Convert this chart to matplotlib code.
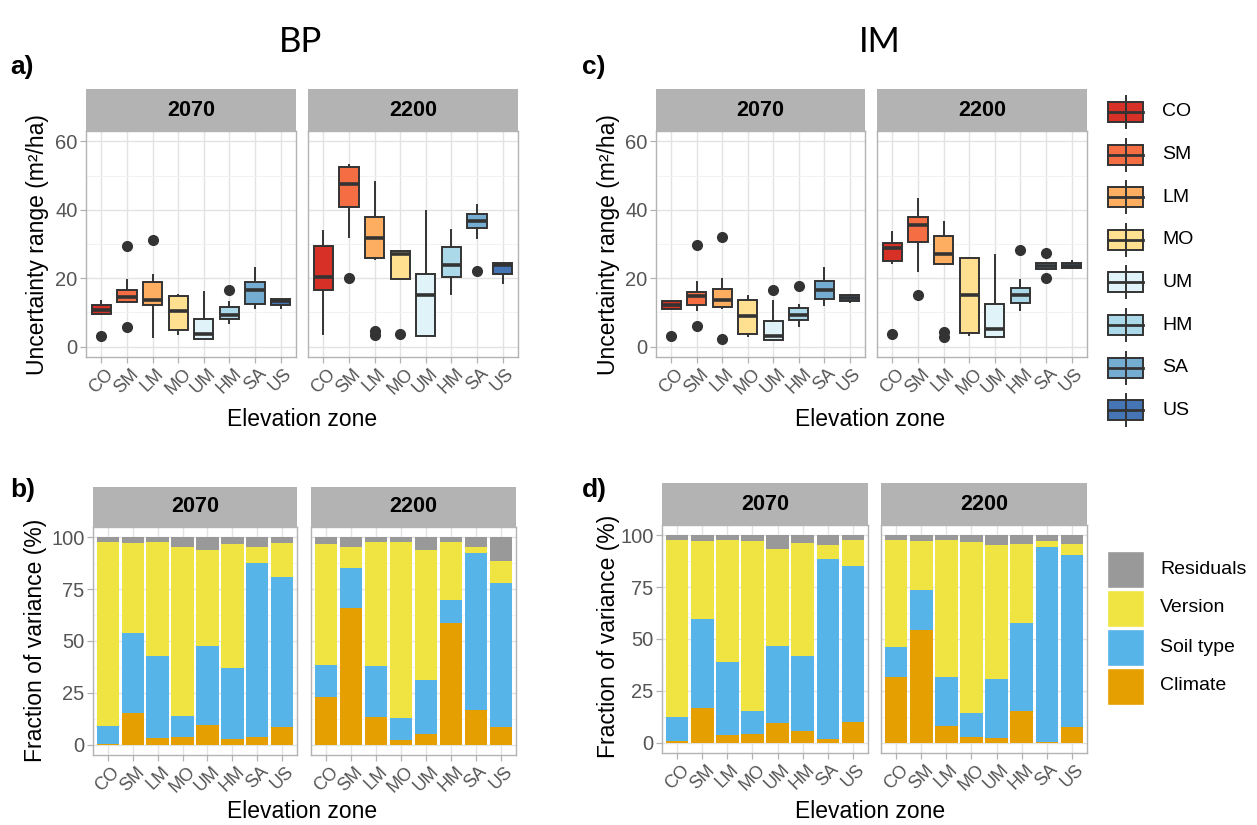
import matplotlib
matplotlib.use("Agg")
import matplotlib.pyplot as plt
from matplotlib.patches import Rectangle
from matplotlib.lines import Line2D
import numpy as np

plt.rcParams['font.family'] = ['Liberation Sans', 'DejaVu Sans']

# ---------------- data ----------------
zones = ['CO', 'SM', 'LM', 'MO', 'UM', 'HM', 'SA', 'US']
periods = ['2070', '2200']
zone_colors = ['#D73027', '#F46D43', '#FDAE61', '#FEE090',
               '#E0F3F8', '#ABD9E9', '#74ADD1', '#4575B4']

# Uncertainty range boxplot statistics (m2/ha)
bp2070_lo  = [9.7, 13.1, 2.7, 3.7, 2.4, 6.8, 11.2, 11.4]
bp2070_q1  = [9.7, 13.1, 12.1, 5.0, 2.4, 8.0, 12.6, 12.3]
bp2070_med = [10.8, 14.5, 13.6, 10.5, 3.7, 9.4, 16.6, 13.3]
bp2070_q3  = [12.1, 16.6, 19.0, 14.7, 8.2, 11.6, 18.8, 14.0]
bp2070_hi  = [13.3, 19.4, 21.0, 15.0, 16.0, 13.1, 23.0, 14.0]
bp2070_out = [[3.1], [29.3, 5.8], [31.3], [], [], [16.6], [], []]

bp2200_lo  = [3.8, 31.9, 25.7, 19.8, 3.2, 15.5, 31.8, 18.6]
bp2200_q1  = [16.6, 40.8, 25.8, 19.8, 3.2, 20.3, 34.8, 21.1]
bp2200_med = [20.5, 47.6, 31.8, 27.1, 15.2, 24.0, 36.8, 24.0]
bp2200_q3  = [29.3, 52.5, 37.9, 27.9, 21.3, 29.2, 38.7, 24.4]
bp2200_hi  = [33.7, 53.0, 48.2, 27.9, 39.5, 34.1, 41.4, 24.4]
bp2200_out = [[], [20.0], [4.7, 3.5], [3.6], [], [], [22.0], []]

im2070_lo  = [11.1, 10.6, 11.3, 3.1, 2.1, 6.0, 12.1, 13.1]
im2070_q1  = [11.1, 12.3, 11.6, 3.7, 2.1, 7.9, 13.9, 13.4]
im2070_med = [12.1, 14.7, 13.6, 8.9, 3.1, 9.4, 16.7, 14.2]
im2070_q3  = [13.4, 16.0, 16.9, 13.7, 7.6, 11.3, 19.1, 15.0]
im2070_hi  = [13.4, 18.9, 19.8, 14.7, 13.3, 12.3, 23.0, 15.0]
im2070_out = [[3.1], [29.6, 6.0], [32.1, 2.3], [], [16.6], [17.6], [], []]

im2200_lo  = [24.4, 22.0, 24.1, 3.4, 2.7, 10.8, 22.7, 23.0]
im2200_q1  = [25.1, 30.7, 24.1, 4.1, 2.9, 12.8, 22.7, 23.0]
im2200_med = [28.7, 35.5, 27.1, 15.0, 5.1, 15.0, 23.7, 23.7]
im2200_q3  = [30.4, 37.8, 32.3, 25.8, 12.4, 17.1, 24.4, 24.4]
im2200_hi  = [33.4, 43.1, 36.5, 25.8, 26.9, 19.6, 24.4, 24.9]
im2200_out = [[3.6], [15.2], [4.2, 2.8], [], [], [28.3], [27.4, 20.0], []]

# Fraction of variance (%)
components = ['Climate', 'Soil type', 'Version', 'Residuals']
comp_colors = ['#E69F00', '#56B4E9', '#F0E442', '#999999']

bp2070_climate = [0.5, 15.2, 3.2, 3.7, 9.6, 2.7, 3.7, 8.5]
bp2070_soil    = [8.6, 38.6, 39.7, 9.9, 37.8, 34.2, 83.8, 72.6]
bp2070_version = [88.8, 43.3, 55.0, 81.9, 46.5, 59.9, 7.7, 16.3]
bp2070_resid   = [2.1, 2.9, 2.1, 4.5, 6.1, 3.2, 4.8, 2.6]

bp2200_climate = [23.0, 65.8, 13.3, 2.1, 5.1, 58.6, 16.5, 8.3]
bp2200_soil    = [15.5, 19.6, 24.7, 10.7, 26.2, 11.2, 76.1, 69.9]
bp2200_version = [58.3, 10.1, 59.9, 84.8, 62.6, 28.1, 2.6, 10.4]
bp2200_resid   = [3.2, 4.5, 2.1, 2.4, 6.1, 2.1, 4.8, 11.4]

im2070_climate = [0.8, 16.5, 3.7, 4.2, 9.6, 5.6, 1.6, 10.1]
im2070_soil    = [11.7, 43.1, 35.1, 11.1, 37.2, 36.4, 87.2, 75.0]
im2070_version = [85.4, 37.5, 59.1, 81.8, 46.8, 54.3, 6.7, 12.5]
im2070_resid   = [2.1, 2.9, 2.1, 2.9, 6.4, 3.7, 4.5, 2.4]

im2200_climate = [31.6, 54.5, 8.0, 2.9, 2.1, 15.3, 0.5, 7.7]
im2200_soil    = [14.4, 19.0, 23.6, 11.5, 28.7, 42.2, 93.7, 82.6]
im2200_version = [51.9, 23.6, 66.0, 82.4, 64.4, 38.3, 3.2, 5.5]
im2200_resid   = [2.1, 2.9, 2.4, 3.2, 4.8, 4.2, 2.6, 4.2]

# ---------------- figure ----------------
W, H = 1257, 825
fig = plt.figure(figsize=(W / 100, H / 100), dpi=100)
fig.patch.set_facecolor('white')

GRID_MAJ = '#E3E3E3'
GRID_MIN = '#F2F2F2'
BORDER = '#B3B3B3'
TICKCOL = '#555555'


def px_axes(x0, y0, x1, y1, **kw):
    return fig.add_axes([x0 / W, 1 - y1 / H, (x1 - x0) / W, (y1 - y0) / H], **kw)


def strip(x0, y0, x1, y1, label):
    ax = px_axes(x0, y0, x1, y1)
    ax.set_facecolor('#B3B3B3')
    ax.set_xticks([]); ax.set_yticks([])
    for s in ax.spines.values():
        s.set_visible(False)
    ax.text(0.5, 0.5, label, transform=ax.transAxes, ha='center', va='center',
            fontsize=15.5, fontweight='bold', color='black')


def style_panel(ax, yticks, yminor, show_y):
    ax.set_xlim(-0.6, len(zones) - 0.4)
    ax.set_xticks(range(len(zones)))
    ax.set_xticklabels(zones, rotation=45, ha='center', va='top',
                       fontsize=13, color=TICKCOL)
    ax.set_yticks(yticks)
    ax.set_yticks(yminor, minor=True)
    if show_y:
        ax.set_yticklabels([str(int(t)) for t in yticks], fontsize=14.5, color=TICKCOL)
    else:
        ax.tick_params(axis='y', which='both', left=False, labelleft=False)
    ax.tick_params(axis='both', which='major', length=4, color=BORDER, width=0.9, pad=2)
    ax.tick_params(axis='y', which='minor', left=False)
    ax.grid(True, which='major', color=GRID_MAJ, lw=1.0)
    ax.grid(True, which='minor', axis='y', color=GRID_MIN, lw=0.7)
    ax.set_axisbelow(True)
    for s in ax.spines.values():
        s.set_color(BORDER)
        s.set_linewidth(1.0)


def box_panel(x0, x1, lo, q1, med, q3, hi, out, show_y):
    ax = px_axes(x0, 131, x1, 357)
    stats = []
    for i in range(len(zones)):
        stats.append(dict(whislo=lo[i], q1=q1[i], med=med[i], q3=q3[i],
                          whishi=hi[i], fliers=out[i], label=zones[i]))
    res = ax.bxp(stats, positions=range(len(zones)), widths=0.75, patch_artist=True,
                 showcaps=False,
                 boxprops=dict(edgecolor='#333333', linewidth=1.4),
                 medianprops=dict(color='#333333', linewidth=2.6),
                 whiskerprops=dict(color='#333333', linewidth=1.4),
                 flierprops=dict(marker='o', markerfacecolor='#333333',
                                 markeredgecolor='#333333', markersize=7))
    for patch, c in zip(res['boxes'], zone_colors):
        patch.set_facecolor(c)
    ax.set_ylim(-3, 63)
    style_panel(ax, [0, 20, 40, 60], [10, 30, 50], show_y)
    return ax


def bar_panel(x0, x1, y0, y1, climate, soil, version, resid, show_y):
    ax = px_axes(x0, y0, x1, y1)
    x = np.arange(len(zones))
    bottom = np.zeros(len(zones))
    for vals, col in zip([climate, soil, version, resid], comp_colors):
        ax.bar(x, vals, bottom=bottom, width=0.9, color=col, linewidth=0, zorder=2)
        bottom = bottom + np.array(vals)
    ax.set_ylim(-5, 105)
    style_panel(ax, [0, 25, 50, 75, 100], [12.5, 37.5, 62.5, 87.5], show_y)
    return ax


# ---- top row: boxplots ----
strip(86, 89, 296, 131, '2070')
strip(308, 89, 518, 131, '2200')
box_panel(86, 296, bp2070_lo, bp2070_q1, bp2070_med, bp2070_q3, bp2070_hi, bp2070_out, True)
box_panel(308, 518, bp2200_lo, bp2200_q1, bp2200_med, bp2200_q3, bp2200_hi, bp2200_out, False)

strip(656, 89, 865, 131, '2070')
strip(877, 89, 1087, 131, '2200')
box_panel(656, 865, im2070_lo, im2070_q1, im2070_med, im2070_q3, im2070_hi, im2070_out, True)
box_panel(877, 1087, im2200_lo, im2200_q1, im2200_med, im2200_q3, im2200_hi, im2200_out, False)

# ---- bottom row: stacked bars ----
strip(93, 487, 297, 527, '2070')
strip(311, 487, 516, 527, '2200')
bar_panel(93, 297, 527, 755, bp2070_climate, bp2070_soil, bp2070_version, bp2070_resid, True)
bar_panel(311, 516, 527, 755, bp2200_climate, bp2200_soil, bp2200_version, bp2200_resid, False)

strip(662, 483, 868, 525, '2070')
strip(881, 483, 1087, 525, '2200')
bar_panel(662, 868, 525, 753, im2070_climate, im2070_soil, im2070_version, im2070_resid, True)
bar_panel(881, 1087, 525, 753, im2200_climate, im2200_soil, im2200_version, im2200_resid, False)


def ftext(x, y, s, **kw):
    fig.text(x / W, 1 - y / H, s, **kw)


# titles and labels
ftext(300, 42, 'BP', ha='center', va='center', fontsize=25, family=['Lato', 'DejaVu Sans'])
ftext(880, 42, 'IM', ha='center', va='center', fontsize=25, family=['Lato', 'DejaVu Sans'])
for lab, x, y in [('a)', 10, 67), ('b)', 10, 490), ('c)', 582, 67), ('d)', 582, 490)]:
    ftext(x, y, lab, ha='left', va='center', fontsize=19, fontweight='bold')

ylab1 = 'Uncertainty range (m²/ha)'
ylab2 = 'Fraction of variance (%)'
ftext(38, 245, ylab1, rotation=90, ha='center', va='center', fontsize=16.5)
ftext(608, 245, ylab1, rotation=90, ha='center', va='center', fontsize=16.5)
ftext(36, 640, ylab2, rotation=90, ha='center', va='center', fontsize=16.5)
ftext(608, 636, ylab2, rotation=90, ha='center', va='center', fontsize=16.5)
for x, y in [(302, 420), (870, 420), (302, 811), (870, 811)]:
    ftext(x, y, 'Elevation zone', ha='center', va='center', fontsize=16.5)

# ---- legends (drawn in a pixel-coordinate overlay) ----
lg = px_axes(1095, 85, 1257, 720)
lg.set_xlim(1095, 1257)
lg.set_ylim(720, 85)
lg.axis('off')

for i, (z, c) in enumerate(zip(zones, zone_colors)):
    cy = 112 + i * 42.6
    lg.add_line(Line2D([1125.5, 1125.5], [cy - 16, cy + 16], color='#333333', lw=1.4))
    lg.add_patch(Rectangle((1108, cy - 10), 35, 20, facecolor=c, edgecolor='#333333', lw=1.4))
    lg.add_line(Line2D([1108, 1143], [cy, cy], color='#333333', lw=2.0))
    lg.text(1162, cy, z, ha='left', va='center', fontsize=14)

fill_order = ['Residuals', 'Version', 'Soil type', 'Climate']
for i, name in enumerate(fill_order):
    col = comp_colors[components.index(name)]
    cy = 569 + i * 39
    lg.add_patch(Rectangle((1107, cy - 18), 37, 36.5, facecolor=col, edgecolor='white', lw=1.0))
    lg.text(1160, cy, name, ha='left', va='center', fontsize=14)

fig.savefig('out.png', dpi=100)
